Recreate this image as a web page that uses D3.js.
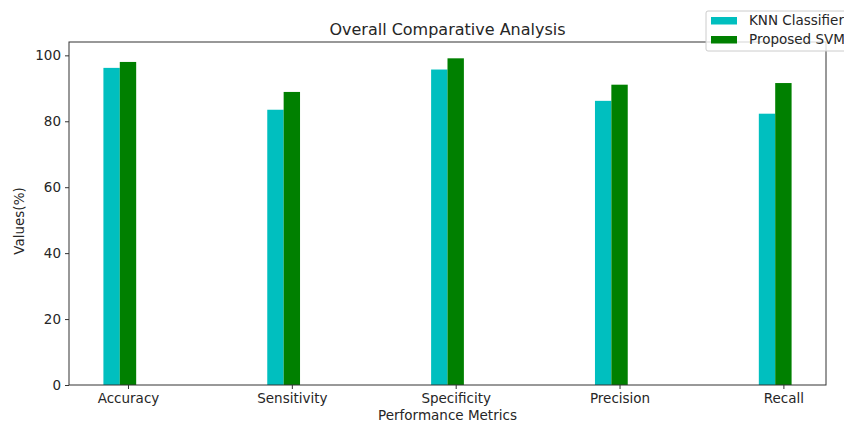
<!DOCTYPE html>
<html><head><meta charset="utf-8">
<script src="https://cdn.jsdelivr.net/npm/d3@7"></script>
<style>body{margin:0;background:#fff}svg{display:block}text{font-family:"DejaVu Sans",sans-serif;fill:#262626}</style>
</head><body><svg id="c" width="844" height="425"></svg>
<script>
const categories = ["Accuracy","Sensitivity","Specificity","Precision","Recall"];
const knnValues = [96.2, 83.5, 95.7, 86.2, 82.3];
const svmValues = [98.0, 88.9, 99.1, 91.1, 91.6];
const yTicks = [0,20,40,60,80,100];
const seriesNames = ["KNN Classifier","Proposed SVM"];
const colors = ["#00BFBF","#008000"];

const svg = d3.select("#c");
const L=69, R=826, T=42, B=385;
const barW = 0.1;
const x = d3.scaleLinear().domain([-0.36, 4.26]).range([L,R]);
const y = d3.scaleLinear().domain([0, 104.05]).range([B,T]);

// bars
const series = [knnValues, svmValues];
series.forEach((vals, si) => {
  svg.append("g").selectAll("rect").data(vals).join("rect")
    .attr("x", (d,i) => x(i - barW*(1-si) - barW/2))
    .attr("width", (d,i) => x(i + barW) - x(i))
    .attr("y", d => y(d))
    .attr("height", d => y(0) - y(d))
    .attr("fill", colors[si]);
});

// axes
const xAxis = d3.axisBottom(x).tickValues(d3.range(categories.length)).tickFormat(i => categories[i]).tickSize(4).tickPadding(4);
const yAxis = d3.axisLeft(y).tickValues(yTicks).tickSize(4).tickPadding(4);
const gx = svg.append("g").attr("transform",`translate(0,${B})`).call(xAxis);
const gy = svg.append("g").attr("transform",`translate(${L},0)`).call(yAxis);
[gx,gy].forEach(g=>{
  g.select(".domain").remove();
  g.selectAll("line").attr("stroke","#333");
  g.selectAll("text").attr("font-size",13.5).style("fill","#262626");
});
svg.append("rect").attr("x",L).attr("y",T).attr("width",R-L).attr("height",B-T)
  .attr("fill","none").attr("stroke","#333").attr("stroke-width",1);

// title and labels
svg.append("text").attr("x",(L+R)/2).attr("y",T-7).attr("text-anchor","middle").attr("font-size",16).text("Overall Comparative Analysis");
svg.append("text").attr("x",(L+R)/2).attr("y",420).attr("text-anchor","middle").attr("font-size",13.5).text("Performance Metrics");
svg.append("text").attr("transform","translate(24,221) rotate(-90)").attr("text-anchor","middle").attr("font-size",13.5).text("Values(%)");

// legend
const lg = svg.append("g");
lg.append("rect").attr("x",706).attr("y",11).attr("width",150).attr("height",40).attr("rx",2)
  .attr("fill","#fff").attr("fill-opacity",0.8).attr("stroke","#ccc");
seriesNames.forEach((n,i)=>{
  lg.append("rect").attr("x",711).attr("y",17+i*19).attr("width",26).attr("height",7.5).attr("fill",colors[i]);
  lg.append("text").attr("x",749).attr("y",25+i*19).attr("font-size",13.5).text(n);
});
</script></body></html>
